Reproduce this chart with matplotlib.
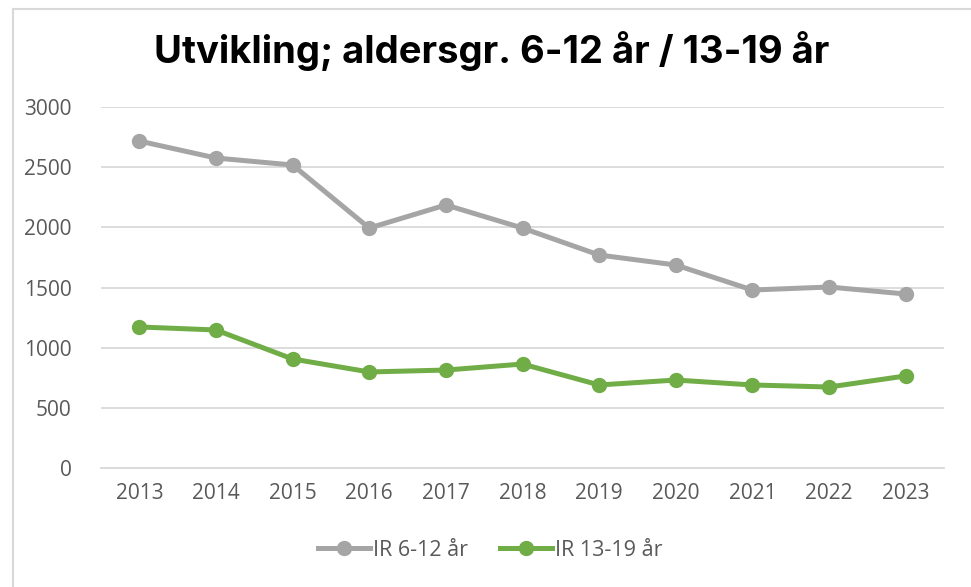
import matplotlib.pyplot as plt
from matplotlib.lines import Line2D

# data
years = ['2013', '2014', '2015', '2016', '2017', '2018', '2019', '2020', '2021', '2022', '2023']
ir_6_12 = [2717, 2576, 2518, 1994, 2186, 1994, 1770, 1687, 1479, 1504, 1446]
ir_13_19 = [1172, 1147, 906, 798, 814, 864, 690, 731, 690, 673, 765]
labels = ['IR 6-12 år', 'IR 13-19 år']

txt = '#595959'
grid = '#D9D9D9'

fig = plt.figure(figsize=(9.71, 5.87), dpi=100)
ax = fig.add_axes([101/971, 1-468/587, (944-101)/971, (468-107)/587])

x = range(len(years))
ax.plot(x, ir_6_12, color='#A5A5A5', lw=3.6, marker='o', ms=10, label=labels[0])
ax.plot(x, ir_13_19, color='#70AD47', lw=3.6, marker='o', ms=10, label=labels[1])

ax.set_xlim(-0.5, len(years) - 0.5)
ax.set_ylim(0, 3000)
ax.set_yticks(range(0, 3001, 500))
ax.set_xticks(list(x))
ax.set_xticklabels(years)
ax.grid(axis='y', color=grid, lw=1.3)
ax.set_axisbelow(True)
for s in ['top', 'right', 'left']:
    ax.spines[s].set_visible(False)
ax.spines['bottom'].set_color(grid)
ax.spines['bottom'].set_linewidth(1.3)
ax.tick_params(length=0, labelsize=15, labelcolor=txt, pad=11, labelfontfamily='Open Sans')
ax.tick_params(axis='y', pad=21)

fig.text(0.506, 1-51/587, 'Utvikling; aldersgr. 6-12 år / 13-19 år', ha='center', va='center',
         fontsize=27.5, fontweight='bold', family='Inter', color='black')

leg = fig.legend(loc='center', bbox_to_anchor=(0.505, 1-550/587), ncol=2, frameon=False,
                 prop={'family': 'Open Sans', 'size': 15.5}, handlelength=2.4,
                 columnspacing=1.5, handletextpad=0.15)
for t in leg.get_texts():
    t.set_color(txt)

# outer chart border (left and top visible)
fig.add_artist(Line2D([13/971, 13/971], [0, 1-9/587], transform=fig.transFigure, color=grid, lw=1.5))
fig.add_artist(Line2D([13/971, 1], [1-9/587, 1-9/587], transform=fig.transFigure, color=grid, lw=1.5))

fig.savefig('out.png', dpi=100)
